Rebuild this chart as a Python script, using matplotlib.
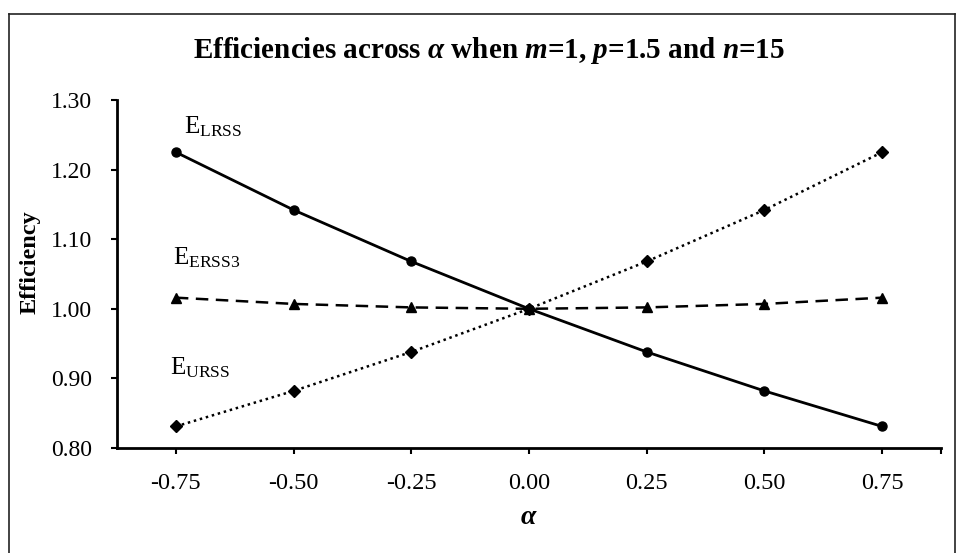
import matplotlib
matplotlib.use("Agg")
import matplotlib.pyplot as plt
from matplotlib.lines import Line2D

alpha = [-0.75, -0.50, -0.25, 0.00, 0.25, 0.50, 0.75]
e_lrss = [1.225, 1.142, 1.068, 1.000, 0.938, 0.882, 0.831]
e_urss = [0.831, 0.882, 0.938, 1.000, 1.068, 1.142, 1.225]
e_erss3 = [1.016, 1.007, 1.002, 1.000, 1.002, 1.007, 1.016]
xtick_labels = ["-0.75", "-0.50", "-0.25", "0.00", "0.25", "0.50", "0.75"]
yticks = [0.80, 0.90, 1.00, 1.10, 1.20, 1.30]

plt.rcParams['font.family'] = ['Liberation Serif', 'DejaVu Serif']
plt.rcParams['mathtext.fontset'] = 'custom'
plt.rcParams['mathtext.rm'] = 'Liberation Serif'
plt.rcParams['mathtext.it'] = 'Liberation Serif:italic:bold'
plt.rcParams['mathtext.bf'] = 'Liberation Serif:bold'

W, H = 957, 553
fig = plt.figure(figsize=(W / 100, H / 100), dpi=100)
ax = fig.add_axes([117/W, 1 - 448/H, (941-117)/W, (448-100)/H])

ax.plot(alpha, e_lrss, color='black', lw=2.0, ls='-', marker='o', ms=6.5, zorder=3)
ax.plot(alpha, e_erss3, color='black', lw=1.8, ls=(0, (5, 3)), marker='^', ms=7.5, zorder=3)
ax.plot(alpha, e_urss, color='black', lw=1.8, ls=(0, (1, 1.5)), marker='D', ms=6.5, zorder=3)

ax.set_xlim(-0.75 - 0.125, 0.75 + 0.125)
ax.set_ylim(0.80, 1.30)
ax.set_xticks(alpha + [0.875])
ax.set_xticklabels(xtick_labels + [""])
ax.set_yticks(yticks)
ax.set_yticklabels([f"{v:.2f}" for v in yticks])
ax.tick_params(axis='both', direction='out', length=4, width=1.5, labelsize=17, colors='black')
ax.tick_params(axis='x', pad=14, labelsize=17.5)
ax.tick_params(axis='y', pad=14)

for s in ['top', 'right']:
    ax.spines[s].set_visible(False)
for s in ['left', 'bottom']:
    ax.spines[s].set_linewidth(2.0)
    ax.spines[s].set_color('black')

ax.set_xlabel(r'$\alpha$', fontsize=20, labelpad=8)
fig.text(30 / W, 1 - 262 / H, 'Efficiency', fontsize=17.5, fontweight='bold',
         rotation=90, ha='center', va='center')
fig.text(489 / W, 1 - 50 / H,
         r'Efficiencies across $\alpha$ when $m$=1, $p$=1.5 and $n$=15',
         fontsize=21, fontweight='bold', ha='center', va='center')

ax.text(-0.733, 1.262, r'E$_{\mathrm{LRSS}}$', fontsize=18, va='center', ha='left')
ax.text(-0.757, 1.073, r'E$_{\mathrm{ERSS3}}$', fontsize=18, va='center', ha='left')
ax.text(-0.763, 0.916, r'E$_{\mathrm{URSS}}$', fontsize=18, va='center', ha='left')

# chart-area border (left, top, right edges; bottom cut off)
bx0, by0, bx1 = 8.5 / W, 1 - 13.5 / H, 954.5 / W
for xs, ys in [([bx0, bx0], [0, by0]), ([bx0, bx1], [by0, by0]), ([bx1, bx1], [by0, 0])]:
    fig.lines.append(Line2D(xs, ys, transform=fig.transFigure, color='#222222', lw=1.2))

fig.savefig('out.png', dpi=100)
